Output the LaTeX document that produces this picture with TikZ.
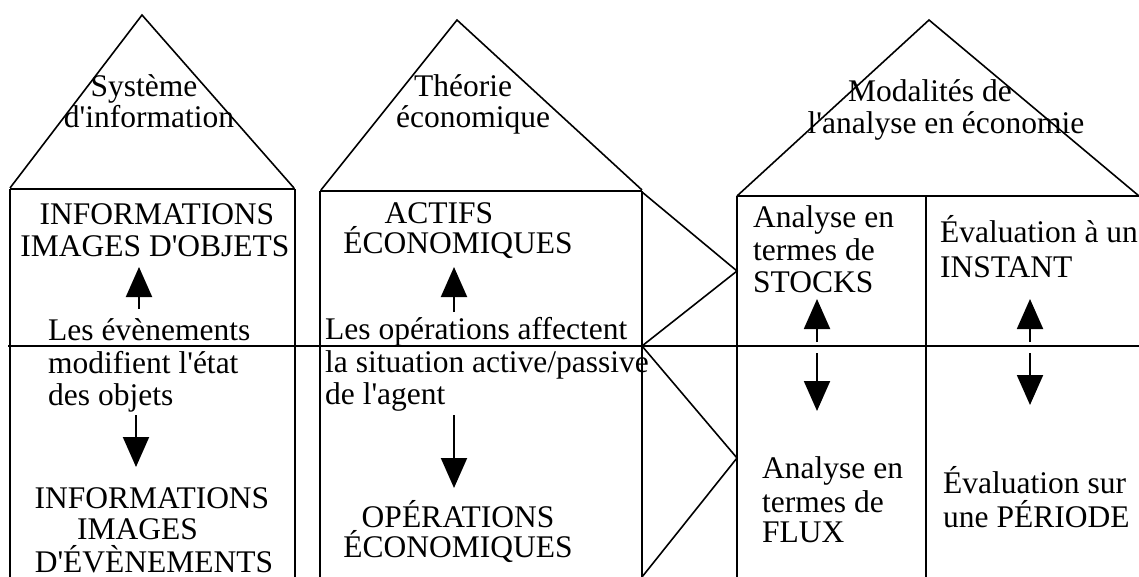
\documentclass[tikz,border=0pt]{standalone}
\usepackage{fontspec}
\setmainfont{Liberation Serif}[Ligatures=TeXOff]
\usetikzlibrary{arrows.meta}
\tikzset{
  roof/.style={line width=1.6pt, line join=miter},
  wall/.style={line width=2pt},
  boxtop/.style={line width=2.6pt},
  midline/.style={line width=1.8pt},
  chevron/.style={line width=1.6pt},
  txt/.style={anchor=base, inner sep=0pt, font=\fontsize{31.5}{32}\selectfont},
  txtl/.style={txt, anchor=base west},
  arr/.style={line width=2pt, -{Triangle[length=30pt,width=26pt]}},
}
\begin{document}
\begin{tikzpicture}[x=1pt,y=-1pt]
\useasboundingbox (0,0) rectangle (1139,577);
% houses
\draw[roof] (10,188) -- (142,15) -- (294,188);
\draw[boxtop] (10,189) -- (295,189);
\draw[wall] (10,189) -- (10,577);
\draw[wall] (295,189) -- (295,577);
\draw[roof] (321,190) -- (457,20) -- (642,190);
\draw[boxtop] (320,191) -- (642,191);
\draw[wall] (320,191) -- (320,577);
\draw[wall] (642,191) -- (642,577);
\draw[roof] (737,196) -- (929,20) -- (1139,196);
\draw[boxtop] (737,196) -- (1139,196);
\draw[wall] (737,196) -- (737,577);
\draw[wall] (926,196) -- (926,577);
\draw[midline] (8,346) -- (1139,346);
\draw[chevron] (642,192) -- (737,271) -- (642,346) -- (737,458) -- (642,577);
% roof texts
\node[txt] (sys1) at (144,97) {Système};
\node[txt] (sys2) at (149,128) {d'information};
\node[txt] (th1) at (463,97) {Théorie};
\node[txt] (th2) at (473,128) {économique};
\node[txt] (mod1) at (930,102) {Modalités de};
\node[txt] (mod2) at (946,134) {l'analyse en économie};
% left box
\node[txt] (io1) at (157,225) {INFORMATIONS};
\node[txt] (io2) at (155,256) {IMAGES D'OBJETS};
\node[txtl] (ev1) at (48,340) {Les évènements};
\node[txtl] (ev2) at (48,373) {modifient l'état};
\node[txtl] (ev3) at (48,405) {des objets};
\node[txt] (ie1) at (152,508) {INFORMATIONS};
\node[txtl] (ie2) at (77,539) {IMAGES};
\node[txt] (ie3) at (154,572) {D'ÉVÈNEMENTS};
% middle box
\node[txt] (ac1) at (439,223) {ACTIFS};
\node[txt] (ac2) at (458,254) {ÉCONOMIQUES};
\node[txtl] (op1) at (325,339) {Les opérations affectent};
\node[txtl] (op2) at (325,372) {la situation active/passive};
\node[txtl] (op3) at (325,404) {de l'agent};
\node[txt] (oe1) at (458,527) {OPÉRATIONS};
\node[txt] (oe2) at (458,557) {ÉCONOMIQUES};
% right box
\node[txtl] (st1) at (753,228) {Analyse en};
\node[txtl] (st2) at (753,260) {termes de};
\node[txtl] (st3) at (753,292) {STOCKS};
\node[txtl] (in1) at (940,243) {Évaluation à un};
\node[txtl] (in2) at (940,277) {INSTANT};
\node[txtl] (fl1) at (762,478) {Analyse en};
\node[txtl] (fl2) at (762,512) {termes de};
\node[txtl] (fl3) at (762,542) {FLUX};
\node[txtl] (pe1) at (943,493) {Évaluation sur};
\node[txtl] (pe2) at (943,527) {une PÉRIODE};
% arrows
\coordinate (a1s) at (139,309); \coordinate (a1e) at (139,267);
\coordinate (a2s) at (136,415); \coordinate (a2e) at (136,467);
\coordinate (a3s) at (454,312); \coordinate (a3e) at (454,267);
\coordinate (a4s) at (454,415); \coordinate (a4e) at (454,488);
\coordinate (a5s) at (817,342); \coordinate (a5e) at (817,299);
\coordinate (a6s) at (817,353); \coordinate (a6e) at (817,411);
\coordinate (a7s) at (1030,342); \coordinate (a7e) at (1030,299);
\coordinate (a8s) at (1030,353); \coordinate (a8e) at (1030,405);
\draw[arr] (a1s) -- (a1e);
\draw[arr] (a2s) -- (a2e);
\draw[arr] (a3s) -- (a3e);
\draw[arr] (a4s) -- (a4e);
\draw[arr] (a5s) -- (a5e);
\draw[arr] (a6s) -- (a6e);
\draw[arr] (a7s) -- (a7e);
\draw[arr] (a8s) -- (a8e);
\end{tikzpicture}
\end{document}
